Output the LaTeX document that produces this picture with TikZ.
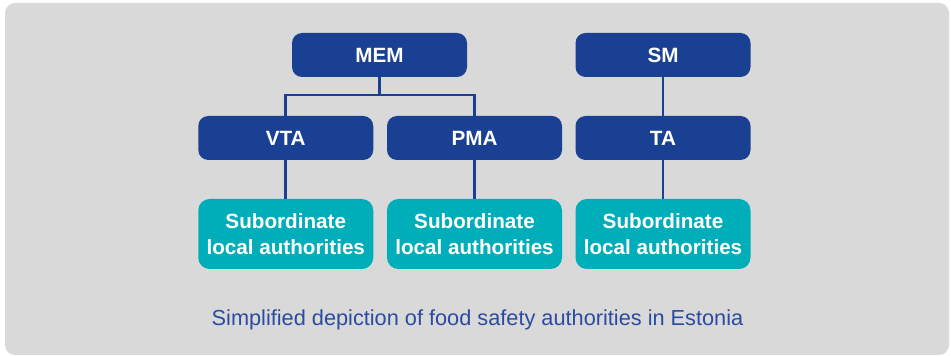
\documentclass[tikz,border=0pt]{standalone}
\usepackage{fontspec}
\setmainfont{Liberation Sans}
\definecolor{bggray}{RGB}{217,217,217}
\definecolor{darkbox}{RGB}{25,64,146}
\definecolor{tealbox}{RGB}{0,174,186}
\definecolor{captionblue}{RGB}{42,76,160}
\begin{document}
\begin{tikzpicture}[x=0.75pt,y=-0.75pt,
  orgbox/.style={fill=darkbox, rounded corners=7.5pt, minimum width=131.25pt, minimum height=33pt, inner sep=0pt,
    text=white, font=\fontsize{15.5}{19}\selectfont\bfseries},
  subbox/.style={fill=tealbox, rounded corners=8.5pt, minimum width=131.25pt, minimum height=52.5pt, inner sep=0pt,
    text=white, align=center, font=\fontsize{15.5}{19.3}\selectfont\bfseries},
  link/.style={draw=darkbox, line width=2.2pt}]
\useasboundingbox (0,0) rectangle (951,356);
\fill[bggray, rounded corners=7.5pt] (5,3) rectangle (949,355);

\node[orgbox] (mem) at (379.5,55) {MEM};
\node[orgbox] (sm) at (663,55) {SM};
\node[orgbox] (vta) at (285.75,138) {VTA};
\node[orgbox] (pma) at (474.5,138) {PMA};
\node[orgbox] (ta) at (663,138) {TA};
\node[subbox] (sub1) at (285.75,234) {Subordinate\\local authorities};
\node[subbox] (sub2) at (474.5,234) {Subordinate\\local authorities};
\node[subbox] (sub3) at (663,234) {Subordinate\\local authorities};
\coordinate (junction) at (379.5,95);

\draw[link] (mem) -- (junction);
\draw[link] (vta.north) |- (junction) -| (pma.north);
\draw[link] (vta) -- (sub1);
\draw[link] (pma) -- (sub2);
\draw[link] (sm) -- (ta);
\draw[link] (ta) -- (sub3);

\node[text=captionblue, font=\fontsize{16.3}{19}\selectfont, anchor=base] (caption) at (477.5,326) {Simplified depiction of food safety authorities in Estonia};
\end{tikzpicture}
\end{document}
